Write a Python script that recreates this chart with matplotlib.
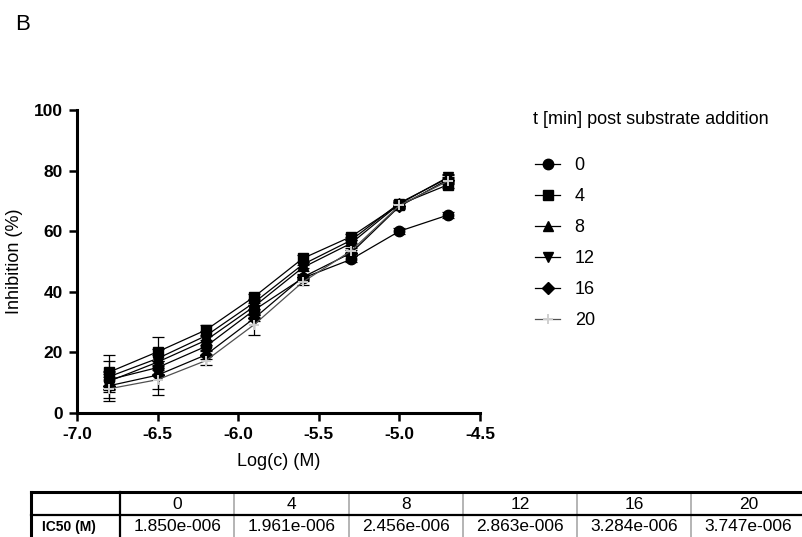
import matplotlib
matplotlib.use("Agg")
import matplotlib.pyplot as plt
from matplotlib.ticker import FormatStrFormatter

plt.rcParams['font.family'] = ['Liberation Sans', 'DejaVu Sans']
plt.rcParams['axes.unicode_minus'] = False

# log concentrations (M)
log_c = [-6.8, -6.5, -6.2, -5.9, -5.6, -5.3, -5.0, -4.7]

# inhibition (%) per time point after substrate addition
inh_0 = [11.0, 15.0, 22.0, 34.0, 44.5, 50.7, 60.0, 65.3]
inh_4 = [13.5, 20.2, 27.4, 38.4, 51.0, 58.2, 68.8, 75.3]
inh_8 = [12.0, 18.0, 25.5, 36.5, 49.0, 57.0, 69.3, 77.5]
inh_12 = [10.5, 16.8, 24.0, 35.2, 48.0, 56.0, 69.0, 77.8]
inh_16 = [9.0, 12.5, 19.2, 31.3, 44.8, 52.8, 68.2, 77.0]
inh_20 = [8.0, 11.0, 17.3, 29.2, 43.2, 53.5, 68.5, 76.5]

err_0 = [3.0, 2.0, 1.5, 1.5, 1.0, 1.0, 1.0, 1.0]
err_4 = [5.5, 4.8, 1.8, 1.0, 1.0, 1.0, 1.0, 1.0]
err_8 = [5.0, 3.0, 1.5, 1.0, 1.0, 1.0, 1.0, 1.0]
err_12 = [3.0, 2.5, 1.5, 1.0, 1.0, 1.0, 1.0, 1.0]
err_16 = [4.0, 4.5, 1.5, 1.0, 1.0, 1.0, 1.0, 1.0]
err_20 = [4.0, 5.0, 1.5, 3.5, 1.0, 1.0, 1.0, 1.0]

times = ['0', '4', '8', '12', '16', '20']
ic50 = ['1.850e-006', '1.961e-006', '2.456e-006', '2.863e-006', '3.284e-006', '3.747e-006']

series = [inh_0, inh_4, inh_8, inh_12, inh_16, inh_20]
errors = [err_0, err_4, err_8, err_12, err_16, err_20]
markers = ['o', 's', '^', 'v', 'D', '+']
msizes = [7.5, 7.5, 7.5, 7.5, 6, 7]
line_cols = ['black'] * 5 + ['#505050']
mark_cols = ['black'] * 5 + ['#cfcfcf']

fig = plt.figure(figsize=(8.03, 5.37), dpi=100)
ax = fig.add_axes([77 / 803, 1 - 413 / 537, 403 / 803, 303 / 537])

handles = []
for y, e, m, ms, lc, mc, t in zip(series, errors, markers, msizes, line_cols, mark_cols, times):
    ax.errorbar(log_c, y, yerr=e, fmt='none', ecolor='black', elinewidth=0.9,
                capsize=4, capthick=0.9, zorder=2)
    h, = ax.plot(log_c, y, color=lc, lw=0.9, marker=m, ms=ms, mfc=mc, mec=mc,
                 mew=1.4 if m == '+' else 1, label=t, zorder=3)
    handles.append(h)

ax.set_xlim(-7.0, -4.5)
ax.set_ylim(0, 100)
ax.set_xticks([-7.0, -6.5, -6.0, -5.5, -5.0, -4.5])
ax.set_yticks([0, 20, 40, 60, 80, 100])
ax.xaxis.set_major_formatter(FormatStrFormatter('%.1f'))
for s in ['top', 'right']:
    ax.spines[s].set_visible(False)
for s in ['left', 'bottom']:
    ax.spines[s].set_linewidth(2.2)
ax.tick_params(length=6, width=1.8, labelsize=12.5, pad=4)
for lab in ax.get_xticklabels() + ax.get_yticklabels():
    lab.set_fontweight('bold')
ax.set_xlabel('Log(c) (M)', fontsize=13, labelpad=8)
ax.set_ylabel('Inhibition (%)', fontsize=13, labelpad=8)

# legend
fig.text(533 / 803, 1 - 120 / 537, 't [min] post substrate addition', fontsize=13,
         ha='left', va='center')
fig.legend(handles=handles, loc='upper left', bbox_to_anchor=(535 / 803, 1 - 157 / 537),
           frameon=False, fontsize=13, borderpad=0, borderaxespad=0,
           handlelength=1.4, handletextpad=0.8, labelspacing=0.78)

fig.text(15 / 803, 1 - 24 / 537, 'B', fontsize=16, ha='left', va='center')

# IC50 table
tab = fig.add_axes([0, 0, 1, 1])
tab.set_xlim(0, 803)
tab.set_ylim(537, 0)
tab.axis('off')
x0, x1, colw = 31, 120, 114.3
top, mid, bot = 492, 515, 542
right = x1 + colw * len(times)
for i in range(1, len(times)):
    xc = x1 + colw * i
    tab.plot([xc, xc], [top, bot], color='#a8a8a8', lw=1.2)
tab.plot([x1, x1], [top, bot], color='black', lw=1.6)
tab.plot([x0, right], [mid, mid], color='black', lw=1.6)
tab.plot([x0, right, right, x0, x0], [top, top, bot, bot, top], color='black', lw=2.2)
for i, (t, v) in enumerate(zip(times, ic50)):
    xc = x1 + colw * (i + 0.5)
    tab.text(xc, (top + mid) / 2 + 1, t, fontsize=12.5, ha='center', va='center')
    tab.text(xc, 526.5, v, fontsize=12.5, ha='center', va='center')
tab.text(x0 + 11, 527, 'IC50 (M)', fontsize=10, fontweight='bold',
         ha='left', va='center')

fig.savefig('out.png', dpi=100)
